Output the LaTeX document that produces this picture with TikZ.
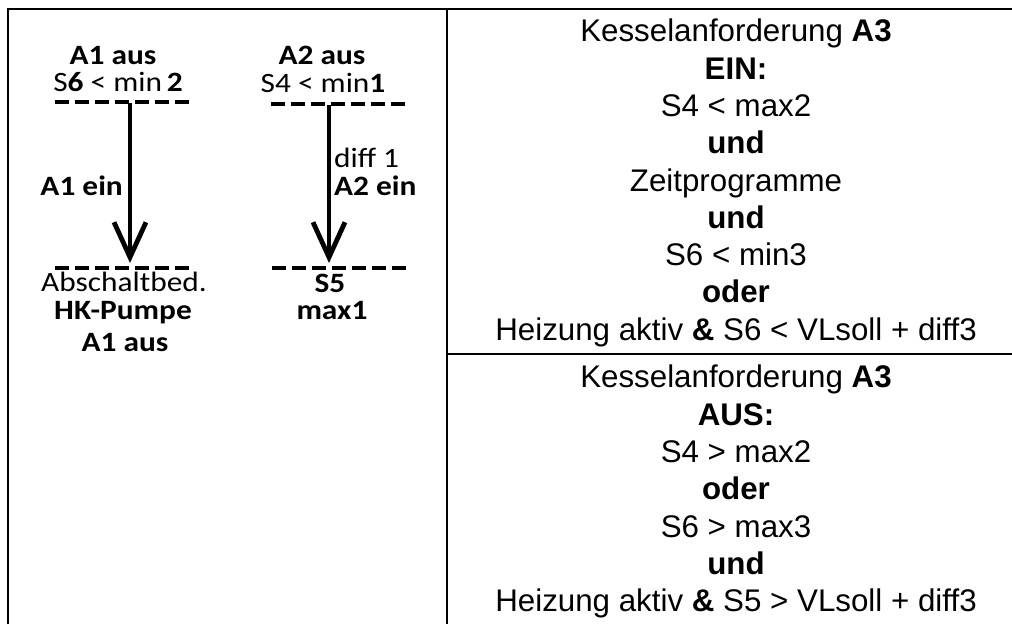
\documentclass[tikz,border=0pt]{standalone}
\usepackage{fontspec}
\setmainfont{Liberation Sans}
\newfontfamily\sketchfont[FakeStretch=1.12]{Carlito}
\usepackage{tikz}
\usetikzlibrary{arrows.meta, positioning, calc}

\begin{document}
\begin{tikzpicture}[
    x=1pt, y=-1pt,
    rule/.style={draw=black, line width=2.8pt},
    cell/.style={align=center, anchor=north, inner sep=0pt, font=\fontsize{31.3}{37.3}\selectfont},
    sk/.style={anchor=base, inner sep=0pt, font=\sketchfont\fontsize{28}{30}\selectfont},
    skb/.style={anchor=base, inner sep=0pt, font=\sketchfont\bfseries\fontsize{28}{30}\selectfont},
    bar/.style={draw=black, line width=4.5pt, dash pattern=on 14pt off 6pt},
    pfeil/.style={draw=black, line width=4pt, -{Straight Barb[length=35pt, width=32pt, line width=4.8pt]}}
]
\useasboundingbox (0,0) rectangle (1012,624);

% table
\draw[rule] (8,624) |- (1012,9);
\draw[rule] (447,9) -- (447,624);
\draw[rule] (447,354) -- (1012,354);

% left sketch, A1
\node[skb] (a1aus) at (113,64) {A1 aus};
\node[sk] (a1min) at (118,91) {S\textbf{6} < min\,\textbf{2}};
\draw[bar] (55,102) -- (189,102);
\coordinate (a1top) at (130,103);
\coordinate (a1bot) at (130,263);
\draw[pfeil] (a1top) -- (a1bot);
\node[skb, anchor=base east] (a1ein) at (123,195) {A1 ein};
\draw[bar] (55,268) -- (189,268);
\node[sk] (absch) at (124,291) {Abschaltbed.};
\node[skb] (hkp) at (123,319) {HK-Pumpe};
\node[skb] (a1aus2) at (125,351) {A1 aus};

% left sketch, A2
\node[skb] (a2aus) at (322,64) {A2 aus};
\node[sk] (a2min) at (323,92) {S4 < min\textbf{1}};
\draw[bar] (271,104) -- (405,104);
\coordinate (a2top) at (329,105);
\coordinate (a2bot) at (329,263);
\draw[pfeil] (a2top) -- (a2bot);
\node[sk, anchor=base west] (diff) at (334,167) {diff 1};
\node[skb, anchor=base west] (a2ein) at (334,195) {A2 ein};
\draw[bar] (272,268) -- (406,268);
\node[skb] (s5) at (330,292) {S5};
\node[skb] (max1) at (332,319) {max1};

% right column
\node[cell] (ein) at (736,19) {Kesselanforderung \textbf{A3}\\\textbf{EIN:}\\S4 < max2\\\textbf{und}\\Zeitprogramme\\\textbf{und}\\S6 < min3\\\textbf{oder}\\Heizung aktiv \textbf{\&} S6 < VLsoll + diff3};
\node[cell] (aus) at (736,365) {Kesselanforderung \textbf{A3}\\\textbf{AUS:}\\S4 > max2\\\textbf{oder}\\S6 > max3\\\textbf{und}\\Heizung aktiv \textbf{\&} S5 > VLsoll + diff3};

\end{tikzpicture}
\end{document}
